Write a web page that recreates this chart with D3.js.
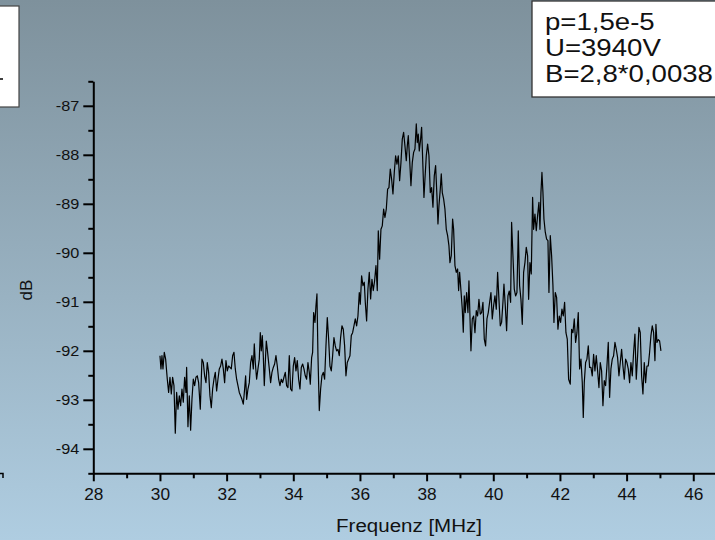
<!DOCTYPE html>
<html>
<head>
<meta charset="utf-8">
<script src="https://cdn.jsdelivr.net/npm/d3@7"></script>
<style>
    html, body { margin: 0; padding: 0; overflow: hidden; }
    text { font-family: "Liberation Sans", Arial, Helvetica, sans-serif; fill: #111; }
</style>
</head>
<body>
<div id="chart"></div>
<script>
// Spektrum
const freq = [
    30.00, 30.03, 30.06, 30.09, 30.13, 30.17, 30.22, 30.26, 30.30, 30.34, 30.38, 30.42, 30.46, 30.50, 30.54, 30.58, 30.62, 30.66, 30.70, 30.74,
    30.78, 30.80, 30.84, 30.88, 30.92, 30.96, 31.00, 31.04, 31.08, 31.12, 31.16, 31.21, 31.26, 31.30, 31.34, 31.38, 31.42, 31.46, 31.50, 31.54,
    31.58, 31.62, 31.66, 31.70, 31.74, 31.78, 31.82, 31.86, 31.90, 31.94, 31.98, 32.02, 32.06, 32.10, 32.14, 32.18, 32.22, 32.26, 32.30, 32.34,
    32.38, 32.42, 32.46, 32.50, 32.54, 32.57, 32.60, 32.64, 32.68, 32.72, 32.76, 32.80, 32.83,
    32.86, 32.90, 32.94, 32.98, 33.01, 33.04, 33.07, 33.10, 33.13, 33.16, 33.19, 33.22, 33.25, 33.28, 33.32, 33.36, 33.40, 33.44, 33.48, 33.52,
    33.56, 33.60, 33.64, 33.68, 33.72, 33.76, 33.80, 33.84, 33.88, 33.92, 33.96, 34.00, 34.04, 34.08, 34.12, 34.16, 34.20, 34.24, 34.28, 34.32,
    34.36, 34.40, 34.44, 34.48, 34.51, 34.55, 34.58, 34.61, 34.65, 34.68, 34.71, 34.74, 34.78, 34.82, 34.86, 34.90, 34.94, 34.98, 35.02, 35.06,
    35.10, 35.14, 35.18, 35.22, 35.26, 35.30, 35.34, 35.38, 35.42, 35.46, 35.50, 35.54, 35.58, 35.62, 35.66, 35.70, 35.74, 35.78, 35.82, 35.86,
    35.90, 35.94, 35.98,
    36.01, 36.05, 36.09, 36.13, 36.16, 36.20, 36.24, 36.28, 36.32, 36.36, 36.40, 36.44, 36.48, 36.52, 36.55, 36.59, 36.63, 36.67, 36.71, 36.75,
    36.79, 36.83, 36.87, 36.91, 36.95, 36.99, 37.03, 37.07, 37.11, 37.15, 37.19, 37.23, 37.27, 37.31, 37.35, 37.39, 37.42, 37.45, 37.49, 37.53,
    37.57, 37.61, 37.65, 37.69, 37.72, 37.75, 37.78, 37.82, 37.85, 37.89, 37.92, 37.95, 37.99, 38.03, 38.07, 38.11, 38.15, 38.19, 38.23, 38.27,
    38.31, 38.34, 38.37, 38.41, 38.44, 38.47, 38.51, 38.55, 38.59, 38.63, 38.67, 38.70, 38.74, 38.78, 38.81, 38.85, 38.89, 38.93, 38.96, 38.99,
    39.03, 39.07, 39.10, 39.13,
    39.16, 39.20, 39.24, 39.27, 39.30, 39.33, 39.37, 39.41, 39.45, 39.49, 39.53, 39.57, 39.61, 39.65, 39.69, 39.73, 39.77, 39.81, 39.85, 39.89,
    39.93, 39.97, 40.01, 40.05, 40.09, 40.13, 40.17, 40.21, 40.25, 40.29, 40.32, 40.36, 40.40, 40.44, 40.48, 40.52, 40.55, 40.59, 40.63, 40.67,
    40.71, 40.75, 40.79, 40.83, 40.87, 40.91, 40.95, 40.99, 41.03, 41.06, 41.10, 41.14, 41.18, 41.21, 41.25, 41.29, 41.33, 41.37, 41.40, 41.43,
    41.46, 41.49, 41.52, 41.56, 41.60, 41.64, 41.67, 41.71, 41.75, 41.79, 41.82, 41.86, 41.90, 41.94, 41.98, 42.02, 42.06, 42.10, 42.14, 42.18,
    42.22, 42.26,
    42.31, 42.35, 42.39, 42.43, 42.47, 42.51, 42.55, 42.59, 42.63, 42.67, 42.70, 42.73, 42.77, 42.81, 42.85, 42.89, 42.93, 42.97, 43.01, 43.05,
    43.09, 43.13, 43.17, 43.21, 43.25, 43.29, 43.33, 43.37, 43.41, 43.45, 43.49, 43.53, 43.57, 43.61, 43.65, 43.69, 43.73, 43.77, 43.81, 43.85,
    43.89, 43.93, 43.97, 44.01, 44.05, 44.09, 44.13, 44.17, 44.21, 44.25, 44.29, 44.33, 44.37, 44.41, 44.45, 44.49, 44.53, 44.57, 44.61, 44.65,
    44.69, 44.73, 44.77, 44.81, 44.85, 44.88, 44.91, 44.95, 44.99, 45.03
];
const dB = [
    -92.10, -92.37, -92.10, -92.37, -92.03, -92.17, -92.58, -92.85, -92.54, -92.88, -92.54, -92.71, -93.68, -92.85, -93.19, -92.92, -93.12, -92.78, -93.05, -92.54,
    -92.85, -92.34, -93.55, -92.92, -93.62, -92.99, -92.58, -92.71, -92.54, -92.51, -92.65, -93.19, -92.17, -92.24, -92.51, -92.65, -92.24, -92.44, -92.92, -93.16,
    -92.78, -92.58, -92.44, -92.82, -92.58, -92.37, -92.31, -92.17, -92.37, -92.65, -92.20, -92.41, -92.31, -92.34, -92.37, -92.10, -92.03, -92.37, -92.58, -92.71,
    -92.85, -92.92, -92.99, -93.09, -92.78, -92.51, -92.99, -92.78, -92.65, -92.24, -92.10, -92.37, -91.86,
    -92.24, -92.58, -92.37, -92.17, -91.63, -92.00, -91.69, -92.10, -92.71, -92.24, -91.80, -91.97, -92.17, -92.37, -92.65, -92.44, -92.34, -92.27, -92.10, -92.31,
    -92.58, -92.71, -92.58, -92.65, -92.54, -92.44, -92.71, -92.75, -92.10, -92.78, -92.82, -92.31, -92.14, -92.41, -92.20, -92.58, -92.78, -92.34, -92.27, -92.37,
    -92.51, -92.58, -92.24, -92.44, -92.68, -92.14, -92.03, -91.22, -91.42, -91.08, -90.84, -92.10, -93.22, -92.78, -92.51, -92.44, -92.58, -91.90, -91.32, -91.76,
    -92.31, -92.41, -92.10, -91.73, -91.90, -92.00, -91.97, -92.10, -91.73, -91.49, -91.56, -91.90, -92.51, -92.24, -92.17, -92.10, -91.69, -91.63, -91.49, -91.35,
    -91.49, -91.29, -90.81,
    -91.05, -90.47, -90.67, -90.60, -91.01, -91.39, -90.74, -90.40, -90.94, -90.54, -90.77, -90.57, -90.26, -90.77, -89.55, -90.13, -89.52, -89.45, -89.11, -89.28,
    -89.11, -88.70, -88.67, -88.29, -88.50, -88.80, -88.36, -88.02, -88.19, -88.02, -88.53, -88.16, -87.68, -87.54, -87.82, -88.12, -87.82, -87.61, -88.09, -88.63,
    -88.16, -87.95, -87.88, -87.37, -87.75, -87.58, -87.92, -87.68, -87.44, -88.26, -88.87, -88.50, -88.02, -87.78, -88.02, -88.77, -88.67, -89.07, -88.43, -88.22,
    -88.84, -89.41, -89.04, -88.70, -88.39, -88.77, -88.90, -89.11, -89.52, -89.65, -89.86, -90.20, -90.06, -89.31, -89.52, -90.26, -90.40, -90.33, -90.77, -90.40,
    -90.77, -91.15, -91.62, -90.88,
    -91.22, -90.81, -91.22, -90.57, -91.29, -92.00, -91.35, -91.29, -91.63, -91.18, -91.29, -90.95, -91.25, -91.22, -91.01, -91.76, -91.90, -91.35, -91.22, -91.01,
    -90.81, -91.35, -91.08, -90.88, -91.15, -90.40, -90.95, -91.49, -91.42, -91.01, -90.64, -91.08, -91.59, -90.88, -90.78, -91.01, -89.38, -90.06, -90.74, -90.88,
    -90.81, -89.55, -90.67, -90.95, -91.46, -90.40, -90.20, -89.89, -90.06, -90.95, -90.20, -90.43, -88.87, -89.52, -89.21, -89.55, -89.24, -88.97, -89.52, -88.77,
    -88.36, -88.77, -89.31, -89.58, -89.72, -89.75, -90.81, -89.65, -90.06, -90.67, -91.42, -90.81, -90.91, -91.56, -91.29, -91.42, -91.15, -91.29, -91.01, -91.63,
    -91.76, -92.58,
    -92.68, -91.56, -91.63, -91.35, -91.83, -91.63, -91.22, -92.37, -92.17, -92.65, -93.36, -92.65, -92.24, -92.17, -91.90, -92.34, -92.34, -92.51, -92.07, -92.41,
    -92.10, -92.41, -92.75, -92.24, -92.41, -93.12, -92.61, -92.71, -92.31, -91.83, -92.95, -92.37, -92.17, -92.10, -91.83, -91.97, -92.14, -92.51, -92.24, -91.97,
    -92.31, -92.58, -92.17, -92.24, -92.37, -92.65, -92.24, -92.51, -92.03, -91.66, -92.58, -92.10, -91.52, -91.63, -92.51, -92.88, -92.24, -92.65, -92.31, -92.31,
    -92.03, -91.69, -91.49, -91.63, -92.20, -91.46, -91.83, -91.77, -91.80, -92.00
];

const xMajor = [28, 30, 32, 34, 36, 38, 40, 42, 44, 46];
const xMinor = [29, 31, 33, 35, 37, 39, 41, 43, 45, 47];
const yMajor = [-94, -93, -92, -91, -90, -89, -88, -87];
const yMinor = [-94.5, -93.5, -92.5, -91.5, -90.5, -89.5, -88.5, -87.5, -86.5];
const infoLines = ["p=1,5e-5", "U=3940V", "B=2,8*0,0038"];
const xTitle = "Frequenz [MHz]";
const yTitle = "dB";

const width = 715;
const height = 540;

const svg = d3.select('#chart').append('svg')
    .attr('width', width)
    .attr('height', height);

// Hintergrund-Verlauf
const grad = svg.append('defs').append('linearGradient')
    .attr('id', 'bg')
    .attr('x1', 0).attr('y1', 0).attr('x2', 0).attr('y2', 1);
grad.append('stop').attr('offset', '0%').attr('stop-color', '#7e919c');
grad.append('stop').attr('offset', '100%').attr('stop-color', '#afcde1');
svg.append('rect')
    .attr('width', width)
    .attr('height', height)
    .attr('fill', 'url(#bg)');

const x = d3.scaleLinear().domain([28, 47]).range([93.3, 726.6]);
const y = d3.scaleLinear().domain([-94.5, -86.5]).range([473.3, 81.3]);

// Zahlen mit normalem Bindestrich statt Unicode-Minus
const plain = d => String(d);

// Achsen
const xAxisG = svg.append('g').attr('transform', `translate(0,${y(-94.5)})`);
xAxisG.call(d3.axisBottom(x).tickValues(xMajor).tickSize(8).tickSizeOuter(0).tickPadding(7).tickFormat(plain));
svg.append('g').attr('transform', `translate(0,${y(-94.5)})`)
    .call(d3.axisBottom(x).tickValues(xMinor).tickSize(5).tickSizeOuter(0).tickFormat(''))
    .call(g => g.select('.domain').remove());

const yAxisG = svg.append('g').attr('transform', `translate(${x(28)},0)`);
yAxisG.call(d3.axisLeft(y).tickValues(yMajor).tickSize(10).tickSizeOuter(0).tickPadding(4).tickFormat(plain));
svg.append('g').attr('transform', `translate(${x(28)},0)`)
    .call(d3.axisLeft(y).tickValues(yMinor).tickSize(5).tickSizeOuter(0).tickFormat(''))
    .call(g => g.select('.domain').remove());

svg.selectAll('.domain, .tick line')
    .attr('stroke', '#000')
    .attr('stroke-width', 2);

xAxisG.selectAll('.tick text')
    .attr('font-size', 16)
    .attr('fill', '#111')
    .attr('transform', 'scale(1.08,1)');
yAxisG.selectAll('.tick text')
    .attr('font-size', 14)
    .attr('fill', '#111')
    .attr('x', -14 / 1.16)
    .attr('transform', 'scale(1.16,1)');

// Achsentitel
svg.append('text')
    .attr('transform', 'translate(409,532) scale(1.08,1)')
    .attr('text-anchor', 'middle')
    .attr('font-size', 19)
    .text(xTitle);
svg.append('text')
    .attr('transform', 'translate(32,290) rotate(-90)')
    .attr('text-anchor', 'middle')
    .attr('font-size', 17)
    .text(yTitle);

// Messkurve
const line = d3.line()
    .x((d, i) => x(freq[i]))
    .y(d => y(d));
svg.append('path')
    .attr('d', line(dB))
    .attr('fill', 'none')
    .attr('stroke', '#000')
    .attr('stroke-width', 1.2)
    .attr('stroke-linejoin', 'round');

// Legende links (abgeschnitten)
svg.append('rect')
    .attr('x', -2).attr('y', 6)
    .attr('width', 21).attr('height', 101)
    .attr('fill', '#fff')
    .attr('stroke', '#444')
    .attr('stroke-width', 1.2);
svg.append('line')
    .attr('x1', 0).attr('x2', 3)
    .attr('y1', 79).attr('y2', 79)
    .attr('stroke', '#000').attr('stroke-width', 1.5);
svg.append('path')
    .attr('d', 'M0,473.5H3V478')
    .attr('fill', 'none')
    .attr('stroke', '#000').attr('stroke-width', 1.5);

// Parameter-Box
svg.append('rect')
    .attr('x', 532).attr('y', 1)
    .attr('width', 200).attr('height', 96)
    .attr('fill', '#fff')
    .attr('stroke', '#333')
    .attr('stroke-width', 1.3);
svg.selectAll('.info')
    .data(infoLines)
    .enter()
    .append('text')
    .attr('class', 'info')
    .attr('transform', (d, i) => `translate(545,${30 + i * 26}) scale(1.2,1)`)
    .attr('font-size', 23)
    .text(d => d);
</script>
</body>
</html>
